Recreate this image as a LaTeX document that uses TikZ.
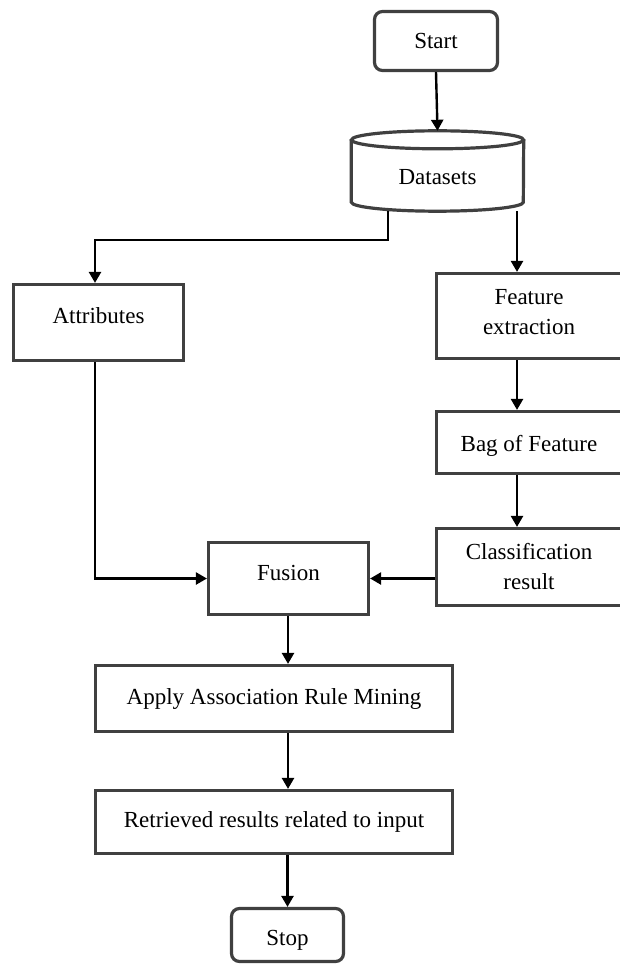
\documentclass[tikz,border=0pt]{standalone}
\usepackage{fontspec}
\setmainfont{Liberation Serif}
\usetikzlibrary{arrows.meta}
\definecolor{bord}{RGB}{64,64,64}
\tikzset{
  box/.style={draw=bord, line width=3.2pt, fill=white, inner sep=0pt,
    font=\fontsize{23}{30}\selectfont, align=center},
  rbox/.style={box, rounded corners=8pt},
  tup/.style={text height=24pt, text depth=#1},
  arr/.style={draw=black, line width=2.4pt, -{Triangle[width=12pt,length=11pt]}},
}
\begin{document}
\begin{tikzpicture}[x=1pt,y=-1pt]
\useasboundingbox (0,0) rectangle (619,965);
\fill[white] (0,0) rectangle (619,965);

% nodes
\node[rbox, tup=8pt, minimum width=123, minimum height=59] (start) at (436,41) {Start};
\node[font=\fontsize{23}{30}\selectfont, text height=28pt, text depth=0pt, minimum width=172, minimum height=80, inner sep=0pt] (data) at (437.5,171) {Datasets};
\node[box, tup=23pt, minimum width=170, minimum height=76] (attr) at (98.5,322.5) {Attributes};
\node[box, minimum width=185, minimum height=85] (feat) at (529,316) {Feature\\extraction\rule[-8pt]{0pt}{8pt}};
\node[box, text height=18pt, text depth=0pt, minimum width=185, minimum height=62] (bag) at (529,442.5) {Bag of Feature};
\node[box, minimum width=185, minimum height=77] (cls) at (529,567) {Classification\\result};
\node[box, tup=21pt, minimum width=160, minimum height=72] (fus) at (288.5,578.5) {Fusion};
\node[box, tup=13pt, minimum width=357, minimum height=66] (arm) at (274,698.5) {Apply Association Rule Mining};
\node[box, tup=14pt, minimum width=357, minimum height=63] (ret) at (274,822) {Retrieved results related to input};
\node[rbox, tup=4pt, minimum width=112, minimum height=53] (stop) at (287.5,935) {Stop};

% cylinder outline for Datasets
\draw[bord, line width=3.2pt]
  ([yshift=-9pt]data.north west) -- ([yshift=9pt]data.south west)
  arc[start angle=180, end angle=360, x radius=86pt, y radius=9pt]
  -- ([yshift=-9pt]data.north east);
\draw[bord, line width=3.2pt] ([yshift=-9pt]data.north) ellipse [x radius=86pt, y radius=9pt];

% helper coordinates
\coordinate (jl) at (388,240);
\coordinate (xr) at (517,0);
\coordinate (xa) at (95,0);
\coordinate (xc) at (288,0);

% connectors
\draw[arr] (start.south) -- (data.north);
\draw[arr] (data.south -| jl) -- (jl) -| (attr.north -| xa);
\draw[arr] (data.south -| xr) -- (feat.north -| xr);
\draw[arr] (feat.south -| xr) -- (bag.north -| xr);
\draw[arr] (bag.south -| xr) -- (cls.north -| xr);
\draw[arr] (attr.south -| xa) |- (fus.west);
\draw[arr] (cls.west |- fus.east) -- (fus.east);
\draw[arr] (fus.south -| xc) -- (arm.north -| xc);
\draw[arr] (arm.south -| xc) -- (ret.north -| xc);
\draw[arr] (ret.south -| stop.north) -- (stop.north);
\end{tikzpicture}
\end{document}
